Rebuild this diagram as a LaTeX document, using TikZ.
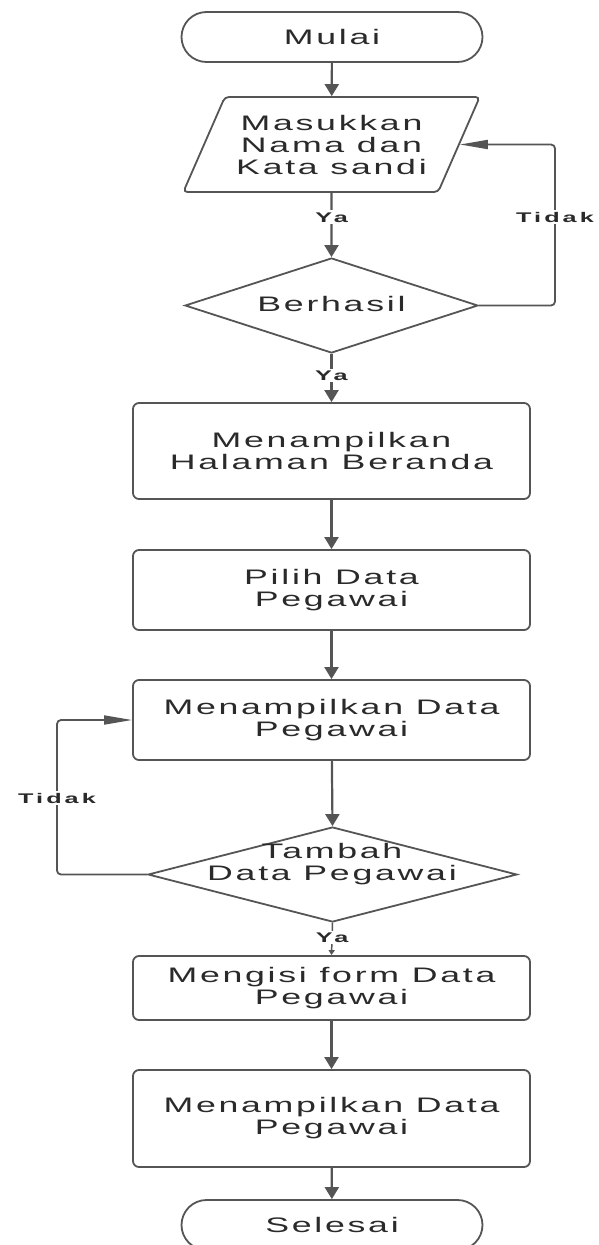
\documentclass[tikz,border=0pt]{standalone}
\usepackage{fontspec}
\setmainfont{Liberation Sans}[FakeStretch=1.7,LetterSpace=13]
\newfontfamily\labfont{Liberation Sans}[FakeStretch=1.8,LetterSpace=22]
\usetikzlibrary{shapes.geometric,shapes.misc,arrows.meta}
\definecolor{edge}{HTML}{555555}
\definecolor{ink}{HTML}{2A2A2A}
\begin{document}
\begin{tikzpicture}[x=1pt,y=-1pt,
  txt/.style={text=ink,font=\fontsize{21}{22}\selectfont,align=center},
  term/.style={rounded rectangle,draw=edge,line width=1.8pt,minimum width=301pt,minimum height=50pt,inner sep=0pt,txt},
  proc/.style={rectangle,rounded corners=6pt,draw=edge,line width=1.8pt,minimum width=397pt,inner sep=0pt,txt},
  io/.style={trapezium,trapezium left angle=58,trapezium right angle=122,trapezium stretches=true,rounded corners=4pt,draw=edge,line width=1.8pt,minimum width=297pt,minimum height=95pt,inner sep=0pt,txt},
  dec/.style={diamond,draw=edge,line width=1.8pt,inner sep=0pt},
  lab/.style={fill=white,text=ink,inner sep=2pt,font=\labfont\bfseries\fontsize{14}{15}\selectfont},
  conn/.style={draw=edge,line width=2.2pt},
  arr/.style={conn,-{Triangle[length=12pt,width=14pt]}},
  looparr/.style={draw=edge,line width=1.8pt,rounded corners=4pt,-{Triangle[length=28pt,width=9pt]}},
  smallarr/.style={draw=edge,line width=1.5pt,-{Triangle[length=5pt,width=6pt]}}
]
\useasboundingbox (0,0) rectangle (598,1245);

\node[term] (start) at (332,37) {Mulai};
\node[io] (login) at (331.5,144.5) {Masukkan\\Nama dan\\Kata sandi};
\node[dec,minimum width=293pt,minimum height=95pt] (d1) at (331.5,305.5) {};
\node[txt] (d1t) at (331.5,304) {Berhasil};
\node[proc,minimum height=96pt] (b1) at (331.5,451) {Menampilkan\\Halaman Beranda};
\node[proc,minimum height=80pt] (b2) at (331.5,590) {Pilih Data\\Pegawai};
\node[proc,minimum height=80pt] (b3) at (331.5,720) {Menampilkan Data\\Pegawai};
\node[dec,minimum width=369pt,minimum height=95pt] (d2) at (332.5,874.5) {};
\node[txt] (d2t) at (332,864) {Tambah\\Data Pegawai};
\node[proc,minimum height=64pt] (b4) at (331.5,988) {Mengisi form Data\\Pegawai};
\node[proc,minimum height=97pt] (b5) at (331.5,1118.5) {Menampilkan Data\\Pegawai};
\node[term] (end) at (332,1225) {Selesai};

\coordinate (tr) at (555,144.5);
\coordinate (tl) at (57,720);

\draw[arr] (start) -- (login);
\draw[arr] (login.south) -- node[lab,pos=0.38] (ya1) {Ya} (d1.north);
\draw[looparr] (d1.east) -| (tr) -- (login.east);
\node[lab] (tidak1) at (555,217) {Tidak};
\draw[arr] (d1.south) -- node[lab,pos=0.45] (ya2) {Ya} (b1.north);
\draw[arr] (b1) -- (b2);
\draw[arr] (b2) -- (b3);
\draw[arr] (b3) -- (d2.north);
\draw[looparr] (d2.west) -| (tl) -- (b3.west);
\node[lab] (tidak2) at (57,798) {Tidak};
\draw[smallarr] (d2.south) -- node[lab,pos=0.45] (ya3) {Ya} (b4.north);
\draw[arr] (b4) -- (b5);
\draw[arr] (b5) -- (end);
\end{tikzpicture}
\end{document}
